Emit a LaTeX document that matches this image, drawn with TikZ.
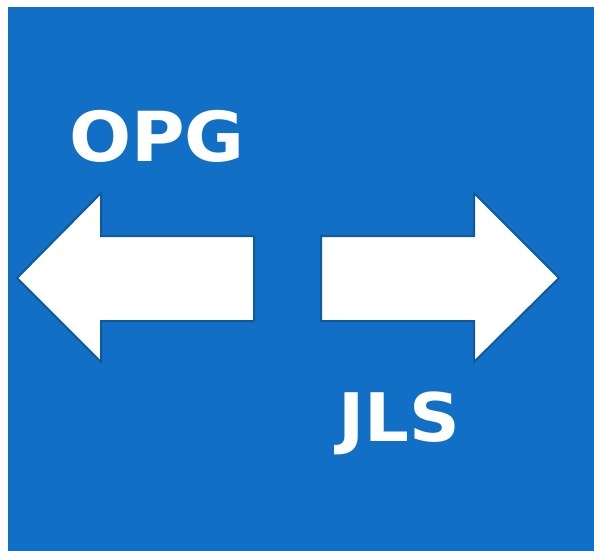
\documentclass[tikz,border=0pt]{standalone}
\usepackage{fontspec}
\setmainfont{DejaVu Sans}
\definecolor{bg}{HTML}{116FC6}
\definecolor{edge}{HTML}{0E5A9C}
\begin{document}
\begin{tikzpicture}[x=1pt,y=-1pt,
  arrowshape/.style={fill=white,draw=edge,line width=2pt,line join=miter},
  lbl/.style={text=white,font=\fontsize{69}{69}\selectfont\bfseries,anchor=base,inner sep=0pt}]
\useasboundingbox (0,0) rectangle (594,551);
\fill[bg] (8,7) rectangle (594,551);
\draw[arrowshape] (17,278) -- (101,193) -- (101,236) -- (254,236) -- (254,321) -- (101,321) -- (101,362) -- cycle;
\draw[arrowshape] (559,278) -- (474,193) -- (474,236) -- (321,236) -- (321,321) -- (474,321) -- (474,362) -- cycle;
\node[lbl] (opg) at (157,161) {\scalebox{1.06}[1]{OPG}};
\node[lbl] (jls) at (399,441) {\scalebox{1.02}[0.97]{JLS}};
\end{tikzpicture}
\end{document}
